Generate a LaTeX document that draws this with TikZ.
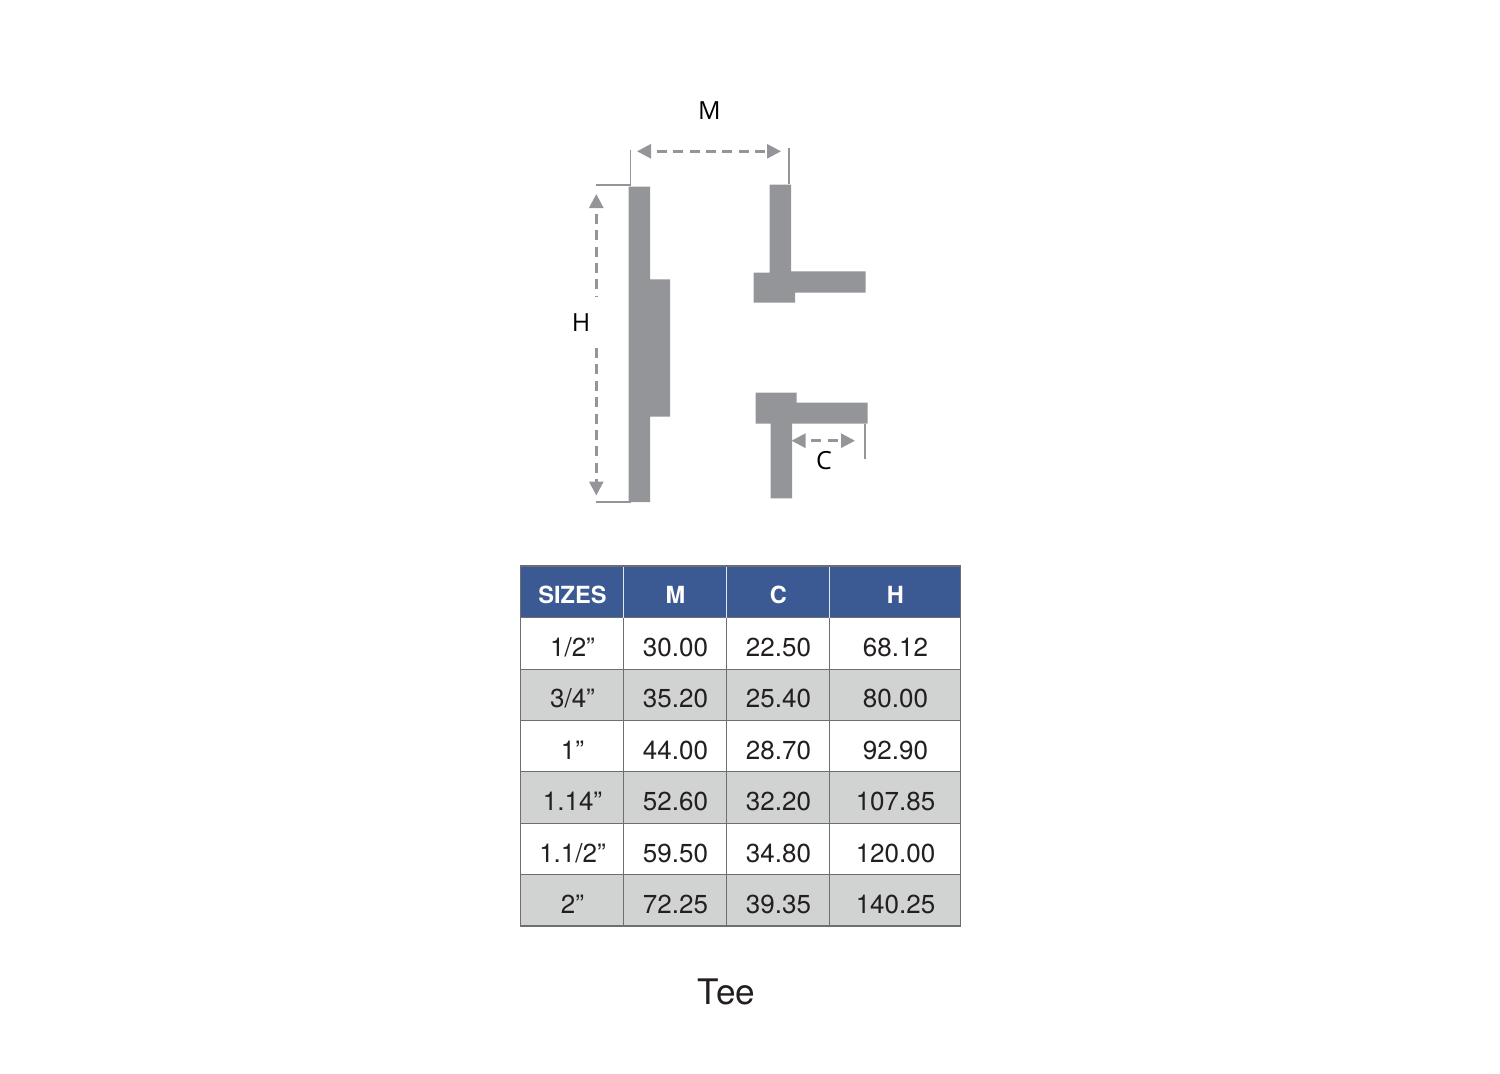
\documentclass[tikz,border=0pt]{standalone}
\usepackage{fontspec}
\setmainfont{TeX Gyre Heros}
\newfontfamily\labelfont{Open Sans}
\usetikzlibrary{arrows.meta}
\definecolor{partgray}{HTML}{939598}
\definecolor{headblue}{HTML}{3B5A94}
\definecolor{rowgray}{HTML}{D1D3D2}
\definecolor{gridgray}{HTML}{6D6E71}
\definecolor{inktext}{HTML}{231F20}
\tikzset{
  part/.style={fill=partgray,draw=none},
  dimline/.style={draw=partgray,line width=1.35pt,dash pattern=on 5pt off 3.2pt,dash phase=5pt,{Triangle[length=7pt,width=7pt]}-{Triangle[length=7pt,width=7pt]}},
  halfdim/.style={draw=partgray,line width=1.35pt,dash pattern=on 5pt off 3.2pt},
  tick/.style={draw=partgray,line width=0.8pt},
  dimlabel/.style={font=\labelfont\fontsize{12.5}{13}\selectfont,text=black,inner sep=0pt},
  cell/.style={font=\fontsize{13}{14}\selectfont,text=inktext,inner sep=0pt,anchor=base},
  headcell/.style={font=\fontsize{11.8}{14}\bfseries\selectfont,text=white,inner sep=0pt,anchor=base},
  gridline/.style={draw=gridgray,line width=0.55pt},
  headline/.style={draw=white!85!headblue,line width=0.55pt},
}
\begin{document}
\begin{tikzpicture}[x=0.5pt,y=-0.5pt]
\useasboundingbox (0,0) rectangle (1500,1073);
% parts
\fill[part] (628.5,186.7) -- (650,186.7) -- (650,279.3) -- (670,279.3) -- (670,416.5) -- (650,416.5) -- (650,502) -- (628.5,502) -- cycle;
\fill[part] (769.5,184.7) -- (791,184.7) -- (791,271.3) -- (865.7,271.3) -- (865.7,292.7) -- (795,292.7) -- (795,302.7) -- (753.5,302.7) -- (753.5,272.7) -- (769.5,272.7) -- cycle;
\fill[part] (755.5,392.7) -- (796.7,392.7) -- (796.7,402.7) -- (867.5,402.7) -- (867.5,423.7) -- (792,423.7) -- (792,498.3) -- (770.7,498.3) -- (770.7,423.7) -- (755.5,423.7) -- cycle;
% coordinates
\coordinate (mL) at (637,151.3);
\coordinate (mR) at (781,151.3);
\coordinate (mtL1) at (630.5,150);
\coordinate (mtL2) at (630.5,185);
\coordinate (mtR1) at (789,148);
\coordinate (mtR2) at (789,184);
\coordinate (hT) at (596.3,194);
\coordinate (hTe) at (596.3,297);
\coordinate (hBs) at (596.3,348);
\coordinate (hB) at (596.3,495.5);
\coordinate (htT1) at (595.5,184.7);
\coordinate (htT2) at (630.5,184.7);
\coordinate (htB1) at (595.5,502);
\coordinate (htB2) at (631,502);
\coordinate (cL) at (791.5,440.7);
\coordinate (cR) at (855,440.7);
\coordinate (ct1) at (865,424);
\coordinate (ct2) at (865,458.5);
% dims
\draw[tick] (mtL1) -- (mtL2);
\draw[tick] (mtR1) -- (mtR2);
\draw[tick] (htT1) -- (htT2);
\draw[tick] (htB1) -- (htB2);
\draw[tick] (ct1) -- (ct2);
\draw[dimline] (mL) -- (mR);
\draw[dimline] (cL) -- (cR);
\draw[halfdim,dash phase=5pt,{Triangle[length=7pt,width=7pt]}-] (hT) -- (hTe);
\draw[halfdim,-{Triangle[length=7pt,width=7pt]}] (hBs) -- (hB);
\node[dimlabel] (lm) at (709.5,110.5) {M};
\node[dimlabel] (lh) at (581,322.5) {H};
\node[dimlabel] (lc) at (824,460.5) {C};
% table fills
\fill[headblue] (520.7,566) rectangle (960.7,618);
\fill[rowgray] (520.7,669.5) rectangle (960.7,721);
\fill[rowgray] (520.7,772) rectangle (960.7,823.5);
\fill[rowgray] (520.7,875) rectangle (960.7,926);
% grid
\foreach \y in {669.3,720.8,771.8,823.3,874.8} \draw[gridline] (520.7,\y) -- (960.7,\y);
\draw[gridline] (520.7,617.8) -- (960.7,617.8);
\foreach \x in {623.7,726.7,829.7} {\draw[headline] (\x,566) -- (\x,618); \draw[gridline] (\x,618) -- (\x,926);}
\draw[gridline] (520.7,566) rectangle (960.7,926);
% text
\node[headcell] (h1) at (572.5,603.5) {SIZES};
\node[headcell] (h2) at (675.5,603.5) {M};
\node[headcell] (h3) at (778.5,603.5) {C};
\node[headcell] (h4) at (895.5,603.5) {H};
\foreach \nm/\yy/\a/\b/\c/\d in {
 r1/656/{1/2”}/30.00/22.50/68.12,
 r2/707.5/{3/4”}/35.20/25.40/80.00,
 r3/759/{1”}/44.00/28.70/92.90,
 r4/810.5/{1.14”}/52.60/32.20/107.85,
 r5/862/{1.1/2”}/59.50/34.80/120.00,
 r6/913.5/{2”}/72.25/39.35/140.25}{
  \node[cell] (\nm a) at (572.5,\yy) {\a};
  \node[cell] (\nm b) at (675.5,\yy) {\b};
  \node[cell] (\nm c) at (778.5,\yy) {\c};
  \node[cell] (\nm d) at (895.5,\yy) {\d};
}
\node[font=\fontsize{17.6}{18}\selectfont,text=inktext,inner sep=0pt,anchor=base] (title) at (726.5,1004) {Tee};
\end{tikzpicture}
\end{document}
